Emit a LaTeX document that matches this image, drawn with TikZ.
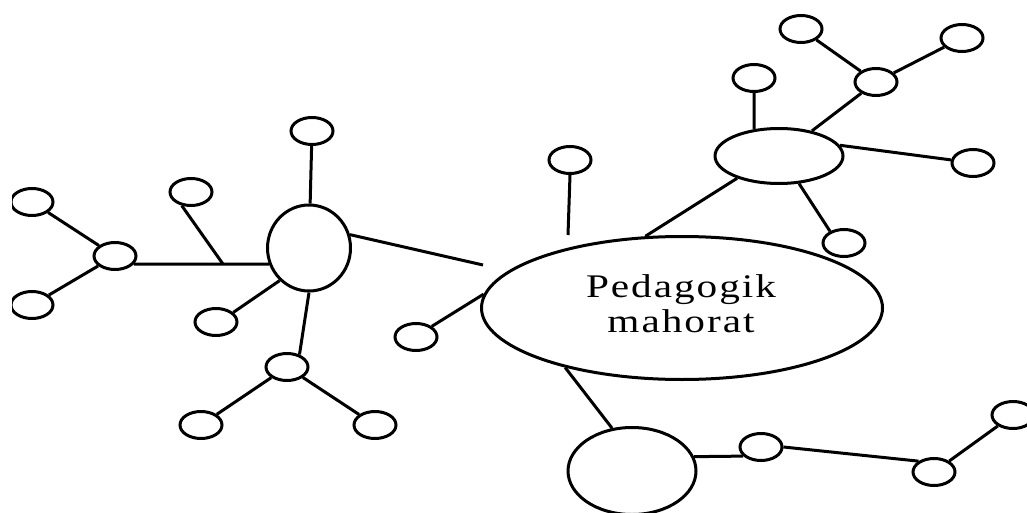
\documentclass[tikz,border=0pt]{standalone}
\usepackage{fontspec}
\setmainfont[FakeStretch=1.25,LetterSpace=6]{Liberation Serif}
\usetikzlibrary{shapes.geometric}

\begin{document}
\begin{tikzpicture}[x=1pt, y=-1pt, line width=3pt, bubble/.style={draw, ellipse, inner sep=0pt, minimum width=42pt, minimum height=27pt}, core/.style={bubble, minimum width=401pt, minimum height=143pt}, title/.style={align=center, inner sep=0pt, font=\fontsize{33}{35}\selectfont}, link/.style={line width=3pt}]
\useasboundingbox (0,0) rectangle (1027,513);
\clip (12,0) rectangle (1027,513);
\node[core] (core) at (682,308) {};
\node[title] (coretext) at (681,304) {Pedagogik\\mahorat};
\node[bubble, minimum width=83pt, minimum height=86pt] (lbig) at (309,248) {};
\node[bubble] (ltop) at (312,131) {};
\node[bubble] (lhub) at (115,256) {};
\node[bubble] (lhubu) at (32,202) {};
\node[bubble] (lhubd) at (32,305) {};
\node[bubble] (lbr) at (191,192) {};
\node[bubble] (lsw) at (216,322) {};
\node[bubble] (lsub) at (287,367) {};
\node[bubble] (lsubl) at (201,425) {};
\node[bubble] (lsubr) at (375,425) {};
\node[bubble] (ctop) at (570,160) {};
\node[bubble] (cleft) at (416,337) {};
\node[bubble, minimum width=128pt, minimum height=55pt] (rbig) at (779,156) {};
\node[bubble] (rtop) at (754,78) {};
\node[bubble] (rhub) at (876,82) {};
\node[bubble] (rhubl) at (801,29) {};
\node[bubble] (rhubr) at (962,38) {};
\node[bubble] (rright) at (973,163) {};
\node[bubble] (rlow) at (844,243) {};
\node[bubble, minimum width=128pt, minimum height=87pt] (bbig) at (632,471) {};
\node[bubble] (bmid) at (761,447) {};
\node[bubble] (bhub) at (934,472) {};
\node[bubble] (bend) at (1013,415) {};
\coordinate (lgap) at (483,265);
\coordinate (cgap) at (568,235);
\draw[link] (ltop) -- (lbig);
\draw[link] (lhubu) -- (lhub);
\draw[link] (lhubd) -- (lhub);
\draw[link] (lhub.-23) -- coordinate[pos=0.66] (lfork) (lbig.202);
\draw[link] (lbr.-124) -- (lfork);
\draw[link] (lsw.29) -- (lbig.228);
\draw[link] (lbig.south) -- (lsub.45);
\draw[link] (lsubl) -- (lsub);
\draw[link] (lsub) -- (lsubr);
\draw[link] (lbig.18) -- (lgap);
\draw[link] (cleft.34) -- (core.176);
\draw[link] (ctop.south) -- (cgap);
\draw[link] (rbig.208) -- (core.117);
\draw[link] (rtop.south) -- (rbig.133);
\draw[link] (rbig) -- (rhub);
\draw[link] (rhubl) -- (rhub);
\draw[link] (rhub) -- (rhubr);
\draw[link] (rbig.10) -- (rright.172);
\draw[link] (rbig.-54) -- (rlow.140);
\draw[link] (core.207) -- (bbig.115);
\draw[link] (bbig.13) -- (bmid.207);
\draw[link] (bmid.east) -- (bhub.145);
\draw[link] (bhub) -- (bend);
\end{tikzpicture}
\end{document}
